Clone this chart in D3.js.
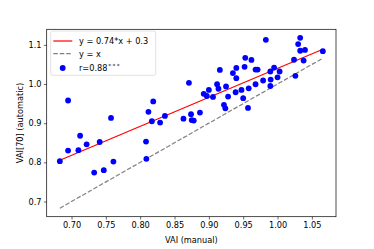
<!DOCTYPE html>
<html>
<head>
<meta charset="utf-8">
<script src="https://cdn.jsdelivr.net/npm/d3@7"></script>
<style>
	body { margin: 0; background: #fff; }
	svg { display: block; font-family: "DejaVu Sans", sans-serif; }
</style>
</head>
<body>
<svg id="chart" width="374" height="249"></svg>
<script>
// VAI values
const manualVAI = [
	0.683, 0.695, 0.695, 0.710, 0.7125, 0.722, 0.733, 0.741, 0.747, 0.7575,
	0.761, 0.8085, 0.809, 0.812, 0.819, 0.817, 0.829, 0.836, 0.863, 0.874,
	0.875, 0.878, 0.887, 0.871, 0.8925, 0.900, 0.897, 0.906, 0.912, 0.914,
	0.916, 0.925, 0.928, 0.922, 0.924, 0.935, 0.940, 0.940, 0.939, 0.9475,
	0.950, 0.953, 0.962, 0.952, 0.957, 0.958, 0.968, 0.968, 0.971, 0.979,
	0.983, 0.9895, 0.995, 1.003, 1.000, 0.990, 0.9895, 1.024, 1.026, 1.030,
	1.033, 1.033, 1.040, 1.038, 1.066
];
const autoVAI = [
	0.803, 0.958, 0.830, 0.831, 0.868, 0.846, 0.774, 0.852, 0.780, 0.9135,
	0.802, 0.853, 0.809, 0.929, 0.9555, 0.905, 0.9015, 0.9186, 0.9115, 0.923,
	0.908, 0.9066, 0.927, 1.003, 0.975, 0.985, 0.9695, 0.967, 0.9995, 0.988,
	1.036, 0.994, 0.968, 0.947, 0.938, 1.028, 1.041, 1.015, 0.979, 0.985,
	0.964, 1.067, 1.0616, 1.044, 0.939, 0.989, 0.9995, 1.037, 1.037, 1.009,
	1.113, 1.032, 1.042, 1.032, 1.017, 1.0115, 0.995, 1.062, 1.021, 1.102,
	1.118, 1.085, 1.087, 1.060, 1.084
];
const fitSlope = 0.74;
const fitIntercept = 0.3;
const xTicks = [0.70, 0.75, 0.80, 0.85, 0.90, 0.95, 1.00, 1.05];
const yTicks = [0.7, 0.8, 0.9, 1.0, 1.1];
const legendLabels = ['y = 0.74*x + 0.3', 'y = x', 'r=0.88'];

const svg = d3.select('#chart');
const margin = { left: 46.7, right: 38, top: 29.3, bottom: 32.3 };
const width = 374 - margin.left - margin.right;
const height = 249 - margin.top - margin.bottom;
const fontSize = 8.2;

// autoscale like matplotlib: data range plus 5% each side
const xMin = d3.min(manualVAI), xMax = d3.max(manualVAI);
const xPad = (xMax - xMin) * 0.05;
const yMin = Math.min(d3.min(autoVAI), xMin), yMax = Math.max(d3.max(autoVAI), xMax);
const yPad = (yMax - yMin) * 0.05;

const x = d3.scaleLinear().domain([xMin - xPad, xMax + xPad]).range([0, width]);
const y = d3.scaleLinear().domain([yMin - yPad, yMax + yPad]).range([height, 0]);

const g = svg.append('g').attr('transform', `translate(${margin.left},${margin.top})`);

// axes
const xAxis = g.append('g')
	.attr('transform', `translate(0,${height})`)
	.call(d3.axisBottom(x).tickValues(xTicks).tickFormat(d3.format('.2f')).tickSizeOuter(0).tickSize(2.8).tickPadding(2.4));
const yAxis = g.append('g')
	.call(d3.axisLeft(y).tickValues(yTicks).tickFormat(d3.format('.1f')).tickSizeOuter(0).tickSize(2.8).tickPadding(2.4));
[xAxis, yAxis].forEach((a) => {
	a.select('.domain').remove();
	a.selectAll('line').attr('stroke', '#000').attr('stroke-width', 0.6);
	a.selectAll('text').attr('fill', '#000').style('font-size', fontSize + 'px').style('font-family', '"DejaVu Sans", sans-serif');
});

// y = x reference line
const line = d3.line().x((d) => x(d[0])).y((d) => y(d[1]));
g.append('path')
	.attr('d', line([[xMin, xMin], [xMax, xMax]]))
	.attr('fill', 'none')
	.attr('stroke', 'gray')
	.attr('stroke-width', 1.2)
	.attr('stroke-dasharray', '4.5,1.95');

// regression line
g.append('path')
	.attr('d', line([[xMin, fitSlope * xMin + fitIntercept], [xMax, fitSlope * xMax + fitIntercept]]))
	.attr('fill', 'none')
	.attr('stroke', 'red')
	.attr('stroke-width', 1.2);

// points
g.append('g')
	.selectAll('circle')
	.data(manualVAI.map((v, i) => [v, autoVAI[i]]))
	.enter()
	.append('circle')
	.attr('cx', (d) => x(d[0]))
	.attr('cy', (d) => y(d[1]))
	.attr('r', 2.9)
	.attr('fill', 'blue');

// frame
g.append('rect')
	.attr('width', width)
	.attr('height', height)
	.attr('fill', 'none')
	.attr('stroke', '#000')
	.attr('stroke-width', 0.7);

// axis labels
g.append('text')
	.attr('x', width / 2)
	.attr('y', height + 26)
	.attr('text-anchor', 'middle')
	.style('font-size', fontSize + 'px')
	.text('VAI (manual)');
g.append('text')
	.attr('transform', `translate(${-24},${height / 2}) rotate(-90)`)
	.attr('text-anchor', 'middle')
	.style('font-size', fontSize + 'px')
	.text('VAI[70] (automatic)');

// legend
const legend = g.append('g').attr('transform', 'translate(4,1.7)');
legend.append('rect')
	.attr('width', 105)
	.attr('height', 44.3)
	.attr('rx', 2)
	.attr('fill', 'rgba(255,255,255,0.8)')
	.attr('stroke', '#cccccc')
	.attr('stroke-width', 0.6);
const rowY = [10, 22.7, 37];
legend.append('line')
	.attr('x1', 2.6).attr('x2', 21.6).attr('y1', rowY[0]).attr('y2', rowY[0])
	.attr('stroke', 'red').attr('stroke-width', 1.2);
legend.append('line')
	.attr('x1', 2.6).attr('x2', 21.6).attr('y1', rowY[1]).attr('y2', rowY[1])
	.attr('stroke', 'gray').attr('stroke-width', 1.2).attr('stroke-dasharray', '4.5,1.95');
legend.append('circle')
	.attr('cx', 12).attr('cy', rowY[2]).attr('r', 2.9).attr('fill', 'blue');
legendLabels.forEach((t, i) => {
	const txt = legend.append('text')
		.attr('x', 28.3)
		.attr('y', rowY[i])
		.attr('dy', '0.35em')
		.style('font-size', fontSize + 'px')
		.text(t);
	if (i === 2) {
		// mathtext superscript, asterisks spaced like binary operators
		txt.append('tspan')
			.attr('dx', 0.8)
			.attr('dy', '-0.45em')
			.style('font-size', (fontSize * 0.72) + 'px')
			.style('letter-spacing', '1.3px')
			.text('***');
	}
});
</script>
</body>
</html>
